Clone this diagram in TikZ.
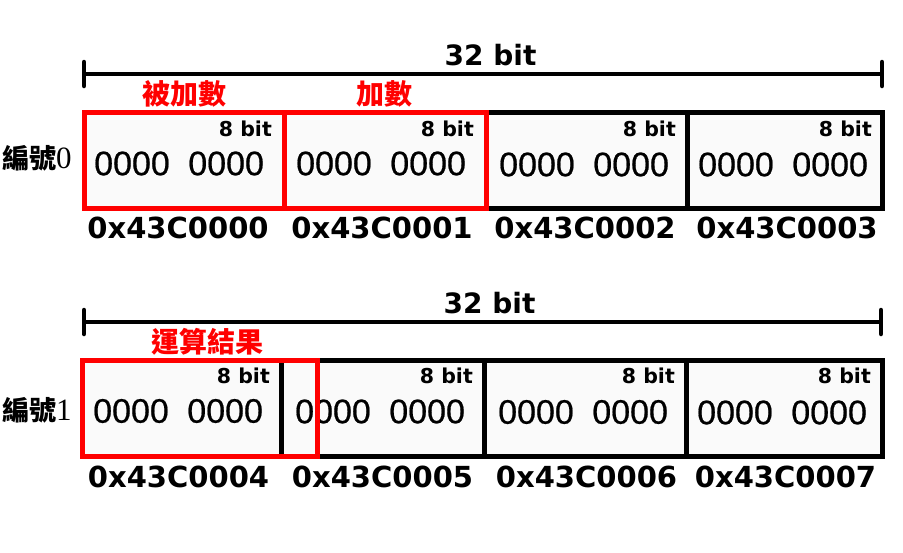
\documentclass[tikz,border=0pt]{standalone}
\usepackage{fontspec}
\setmainfont{Liberation Serif}
\newfontfamily\lblfont{DejaVu Sans}
\newfontfamily\cjk{Noto Sans CJK TC}
\newfontfamily\digitfont[FakeBold=0.6]{Liberation Sans}
\usetikzlibrary{calc}
\definecolor{cellgray}{HTML}{FAFAFA}
\tikzset{
  cell/.style={draw=black, line width=5pt, fill=cellgray, minimum height=96pt, inner sep=0pt},
  redbox/.style={draw=red, line width=5pt, inner sep=0pt, minimum height=96pt},
  bitlbl/.style={font=\lblfont\bfseries\fontsize{20.5}{24}\selectfont, anchor=north east, inner sep=0pt},
  addr/.style={font=\lblfont\bfseries\fontsize{29}{32}\selectfont, anchor=base, inner sep=0pt},
  title/.style={font=\lblfont\bfseries\fontsize{28}{32}\selectfont, anchor=base, inner sep=0pt},
  zeros/.style={font=\digitfont\fontsize{34}{40}\selectfont, anchor=west, inner sep=0pt},
  redlbl/.style={font=\cjk\bfseries\fontsize{28}{32}\selectfont, text=red, inner sep=0pt},
  rowlbl/.style={font=\fontsize{31}{32}\selectfont, anchor=west, inner sep=0pt},
  ruler/.style={line width=4.5pt},
  tick/.style={line width=4.5pt, line cap=round}
}
\newcommand{\zz}{0000\hspace{18.5pt}0000}
\newcommand{\bianhao}{{\cjk\bfseries\fontsize{27}{30}\selectfont 編號}}
\begin{document}
\begin{tikzpicture}[x=1pt, y=-1pt]
\useasboundingbox[fill=white] (0,0) rectangle (903,552);

% ---------- row 0 ----------
\coordinate (l0a) at (84,74);
\coordinate (l0b) at (882,74);
\draw[ruler] (l0a) -- (l0b);
\draw[tick] ($(l0a)+(0,-12)$) -- ($(l0a)+(0,12)$);
\draw[tick] ($(l0b)+(0,-12)$) -- ($(l0b)+(0,12)$);
\node[title] (t0) at (490.5,65) {32 bit};

\node[cell, minimum width=200pt] (c00) at (184,160) {};
\node[cell, minimum width=202pt] (c01) at (385,160) {};
\node[cell, minimum width=201pt] (c02) at (586.5,160) {};
\node[cell, minimum width=195pt] (c03) at (784.5,160) {};

\node[bitlbl] (b00) at (272,121) {8 bit};
\node[bitlbl] (b01) at (474,121) {8 bit};
\node[bitlbl] (b02) at (676,121) {8 bit};
\node[bitlbl] (b03) at (872,121) {8 bit};

\node[zeros] (z00) at (94,163.5) {\zz};
\node[zeros] (z01) at (296,163.5) {\zz};
\node[zeros] (z02) at (499,164.5) {\zz};
\node[zeros] (z03) at (698,164.5) {\zz};

\node[addr] (a00) at (178,238) {0x43C0000};
\node[addr] (a01) at (382,238) {0x43C0001};
\node[addr] (a02) at (585,238) {0x43C0002};
\node[addr] (a03) at (787,238) {0x43C0003};

\node[rowlbl] (n0) at (2,158) {\bianhao 0};

\node[redbox, minimum width=200pt] (r00) at (184,160) {};
\node[redbox, minimum width=202pt] (r01) at (385,160) {};
\node[redlbl] (rl00) at (184,94) {被加數};
\node[redlbl] (rl01) at (384,94) {加數};

% ---------- row 1 ----------
\coordinate (l1a) at (84,322);
\coordinate (l1b) at (881,322);
\draw[ruler] (l1a) -- (l1b);
\draw[tick] ($(l1a)+(0,-12)$) -- ($(l1a)+(0,12)$);
\draw[tick] ($(l1b)+(0,-12)$) -- ($(l1b)+(0,12)$);
\node[title] (t1) at (489.5,313) {32 bit};

\node[cell, minimum width=199pt] (c10) at (181.5,408) {};
\node[cell, minimum width=203pt] (c11) at (382.5,408) {};
\node[cell, minimum width=202pt] (c12) at (585,408) {};
\node[cell, minimum width=196pt] (c13) at (784,408) {};

\node[bitlbl] (b10) at (270,368) {8 bit};
\node[bitlbl] (b11) at (473,368) {8 bit};
\node[bitlbl] (b12) at (675,368) {8 bit};
\node[bitlbl] (b13) at (871,368) {8 bit};

\node[zeros] (z10) at (93,411) {\zz};
\node[zeros] (z11) at (295,411.5) {\zz};
\node[zeros] (z12) at (498,412) {\zz};
\node[zeros] (z13) at (697,412.5) {\zz};

\node[addr] (a10) at (178.5,487) {0x43C0004};
\node[addr] (a11) at (382.5,487) {0x43C0005};
\node[addr] (a12) at (586.5,487) {0x43C0006};
\node[addr] (a13) at (785.5,487) {0x43C0007};

\node[rowlbl] (n1) at (2,410) {\bianhao 1};

\node[redbox, minimum width=235pt] (r10) at (199.5,408) {};
\node[redlbl] (rl10) at (207.5,341.5) {運算結果};
\end{tikzpicture}
\end{document}
